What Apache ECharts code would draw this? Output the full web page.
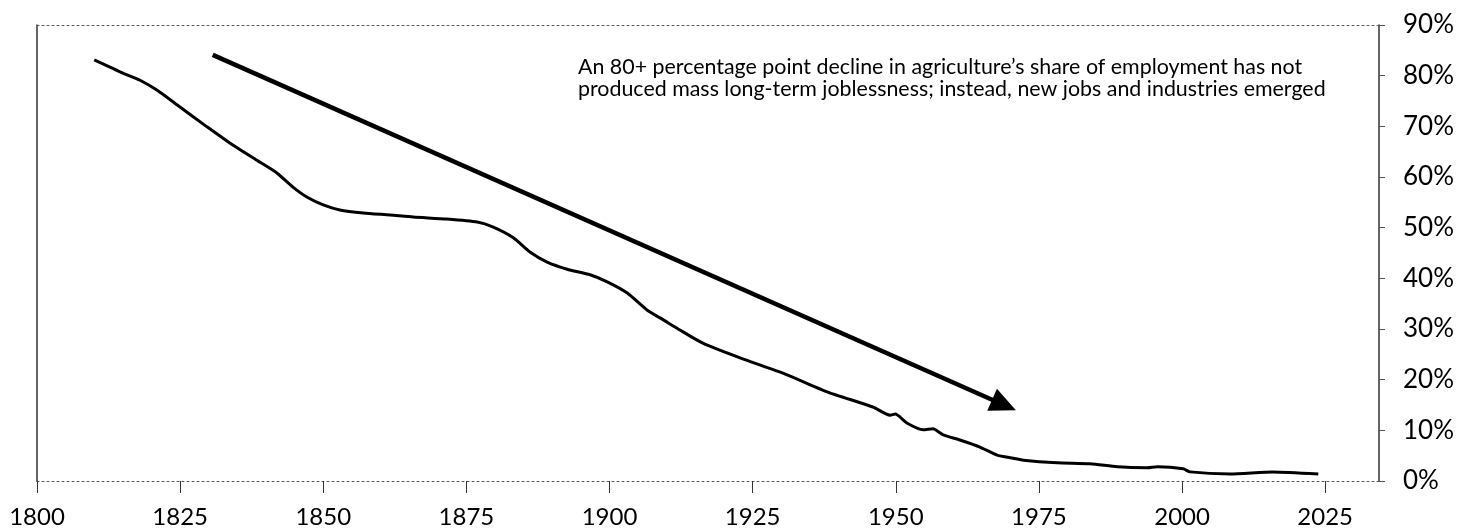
<!DOCTYPE html>
<html>
<head>
<meta charset="utf-8">
<script src="https://cdn.jsdelivr.net/npm/echarts@6/dist/echarts.min.js"></script>
<style>
html,body{margin:0;padding:0;background:#fff;}
#chart{width:1474px;height:530px;}
</style>
</head>
<body>
<div id="chart"></div>
<script>
// Agriculture's share of employment (%)
var years = [1810,1815,1818,1821,1824.5,1829.7,1834.2,1838.4,1841.9,1844.7,1847.2,1850,1852.9,1857,1861.7,1865.7,1871.6,1876.9,1879.7,1883.2,1886.1,1889.1,1892.6,1896.6,1899.6,1903.1,1906.6,1909.4,1912.3,1916.3,1922.8,1930.3,1938,1946,1949,1949.9,1952,1954.8,1956.5,1958.3,1961.2,1964.7,1967.7,1970.5,1972.3,1978.2,1984,1988.7,1993.9,1995.7,2000.2,2001.4,2008.4,2015.9,2023.8];
var shares = [83.1,80.5,79.1,77.1,74.2,69.9,66.3,63.3,60.8,58.0,56.0,54.5,53.5,52.9,52.5,52.1,51.7,51.1,50.1,48.0,45.2,43.2,41.8,40.7,39.3,37.1,33.7,31.8,29.8,27.2,24.3,21.3,17.6,14.6,13.0,13.2,11.4,10.1,10.3,9.1,8.1,6.7,5.1,4.5,4.1,3.6,3.4,2.8,2.6,2.8,2.4,1.8,1.4,1.8,1.4];
var xTicks = [1800,1825,1850,1875,1900,1925,1950,1975,2000,2025];
var yTicks = [0,10,20,30,40,50,60,70,80,90];
var arrowStart = [1830.7, 84.1];
var arrowEnd = [1968.9, 15.0];
var noteLines = [
  "An 80+ percentage point decline in agriculture\u2019s share of employment has not",
  "produced mass long-term joblessness; instead, new jobs and industries emerged"
];

var FONT = 'Lato, "Open Sans", sans-serif';
var chart = echarts.init(document.getElementById('chart'), null, {renderer:'canvas'});
var data = years.map(function(y,i){ return [y, shares[i]]; });

chart.setOption({
  animation:false,
  backgroundColor:'#fff',
  grid:{left:37, right:95, top:25, bottom:49, containLabel:false},
  xAxis:[{
    type:'value', min:1800, max:2034.4, position:'bottom',
    axisLine:{show:true, onZero:false, lineStyle:{color:'#555', width:1, type:[2,3]}},
    axisTick:{show:true, length:12, customValues:xTicks, lineStyle:{color:'#333', width:1}},
    axisLabel:{show:true, customValues:xTicks, formatter:function(v){return String(Math.round(v));}, fontFamily:FONT, fontSize:24, color:'#000', margin:24},
    splitLine:{show:false}
  },{
    type:'value', min:1800, max:2034.4, position:'top',
    axisLine:{show:true, onZero:false, lineStyle:{color:'#555', width:1, type:[2,3]}},
    axisTick:{show:false}, axisLabel:{show:false}, splitLine:{show:false}
  }],
  yAxis:[{
    type:'value', min:0, max:90, interval:10, position:'right',
    axisLine:{show:true, onZero:false, lineStyle:{color:'#333', width:1.5}},
    axisTick:{show:true, inside:false, length:6, lineStyle:{color:'#555', width:1}},
    axisLabel:{show:true, customValues:yTicks, formatter:'{value}%', fontFamily:FONT, fontSize:26, color:'#000', margin:24},
    splitLine:{show:false}
  },{
    type:'value', min:0, max:90, position:'left',
    axisLine:{show:true, onZero:false, lineStyle:{color:'#333', width:1.5}},
    axisTick:{show:false}, axisLabel:{show:false}, splitLine:{show:false}
  }],
  series:[{
    type:'line', data:data, xAxisIndex:0, yAxisIndex:0,
    showSymbol:false, smooth:0.2,
    lineStyle:{color:'#000', width:3},
    silent:true,
    markLine:{
      silent:true, animation:false,
      symbol:['none','triangle'], symbolSize:[24,26],
      label:{show:false},
      lineStyle:{color:'#000', width:4.5, type:'solid'},
      data:[[{coord:arrowStart},{coord:arrowEnd}]]
    }
  }],
  graphic:[{
    type:'text', left:578, top:56,
    style:{text:noteLines.join('\n'), font:'21.4px '+FONT, fill:'#000', lineHeight:22}
  }]
});
</script>
</body>
</html>
